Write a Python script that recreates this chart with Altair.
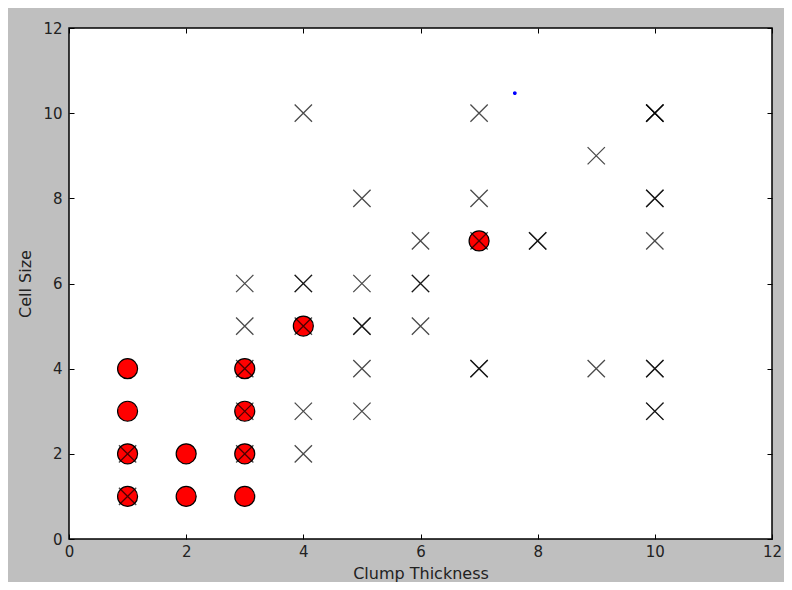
import altair as alt
import pandas as pd

# Benign (red circles)
benign_x = [1, 2, 3, 1, 2, 3, 1, 3, 1, 3, 4, 7]
benign_y = [1, 1, 1, 2, 2, 2, 3, 3, 4, 4, 5, 7]

# Malignant (x markers); repeated entries = overlapping points
malig_x = [4, 7, 10, 10, 10, 9, 5, 7, 10, 10, 6, 8, 8, 10, 7,
           3, 4, 4, 5, 6, 6, 3, 4, 5, 5, 6,
           3, 5, 7, 7, 9, 10, 10, 3, 4, 5, 10, 10, 1, 3, 4, 1]
malig_y = [10, 10, 10, 10, 10, 9, 8, 8, 8, 8, 7, 7, 7, 7, 7,
           6, 6, 6, 6, 6, 6, 5, 5, 5, 5, 5,
           4, 4, 4, 4, 4, 4, 4, 3, 3, 3, 3, 3, 2, 2, 2, 1]

# stray blue point
blue_x = [7.61]
blue_y = [10.47]

tick_values = [0, 2, 4, 6, 8, 10, 12]

benign = pd.DataFrame({"x": benign_x, "y": benign_y})
malig = pd.DataFrame({"x": malig_x, "y": malig_y})
blue = pd.DataFrame({"x": blue_x, "y": blue_y})

xs = alt.Scale(domain=[0, 12], nice=False, zero=False)
ys = alt.Scale(domain=[0, 12], nice=False, zero=False)

ax_common = dict(values=tick_values, grid=False, domain=False, labelFlush=False,
                 offset=-5, tickSize=5, tickColor="black", tickWidth=1,
                 labelFont="DejaVu Sans", labelFontSize=15, labelColor="#222222",
                 titleFont="DejaVu Sans", titleFontSize=16, titleFontWeight="normal",
                 titleColor="#222222")

x_axis = alt.Axis(title="Clump Thickness", orient="bottom", labelPadding=5,
                  titlePadding=6, **ax_common)
y_axis = alt.Axis(title="Cell Size", orient="left", labelPadding=7,
                  titlePadding=9, **ax_common)

circles = alt.Chart(benign).mark_point(
    shape="circle", filled=True, fill="red", stroke="black", strokeWidth=1.2,
    size=400, opacity=1
).encode(x=alt.X("x:Q", scale=xs, axis=x_axis), y=alt.Y("y:Q", scale=ys, axis=y_axis))

top_axis = alt.Axis(title=None, orient="top", labels=False, values=tick_values,
                    grid=False, domain=False, offset=-5, tickSize=5, tickColor="black")
right_axis = alt.Axis(title=None, orient="right", labels=False, values=tick_values,
                      grid=False, domain=False, offset=-5, tickSize=5, tickColor="black")

crosses = alt.Chart(malig).mark_point(
    shape="M-1,-1L1,1M-1,1L1,-1", filled=False, stroke="black", strokeWidth=1.3,
    size=300, opacity=0.7
).encode(x=alt.X("x:Q", scale=xs, axis=top_axis), y=alt.Y("y:Q", scale=ys, axis=right_axis))

bluept = alt.Chart(blue).mark_point(
    shape="circle", filled=True, fill="blue", stroke="blue", size=3, opacity=1
).encode(x=alt.X("x:Q", scale=xs, axis=None), y=alt.Y("y:Q", scale=ys, axis=None))

chart = alt.layer(circles, crosses, bluept).resolve_axis(
    x="independent", y="independent"
).properties(
    width=703, height=511,
    autosize=alt.AutoSizeParams(type="none"),
    padding={"left": 61, "top": 20, "right": 12, "bottom": 43},
    background="#bfbfbf",
).configure_view(
    fill="white", stroke="black", strokeWidth=1.5
)

chart.save("out.html", embed_options={"renderer": "svg", "actions": False})
